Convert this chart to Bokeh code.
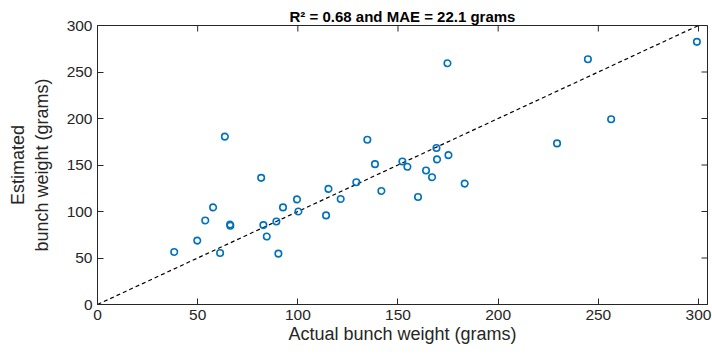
import math
from bokeh.plotting import figure
from bokeh.models import LinearAxis, Range1d, FixedTicker, ColumnDataSource
from bokeh.embed import file_html
from bokeh.resources import INLINE

actual = [38.3, 49.8, 53.8, 57.7, 61.2, 66.2, 66.3, 81.7, 82.8, 84.5, 89.3, 90.3,
          92.6, 99.6, 100.3, 114.1, 115.3, 121.4, 129.2, 141.7, 63.6, 134.7, 138.5,
          174.7, 244.8, 299.2, 256.4, 229.4, 152.2, 154.7, 169.2, 169.5, 175.2,
          164.0, 167.0, 183.3, 160.0]
estimated = [56.5, 68.7, 90.4, 104.4, 55.4, 86.0, 84.6, 136.2, 85.4, 73.1, 89.3, 54.7,
             104.4, 113.0, 100.0, 95.8, 124.3, 113.5, 131.4, 122.1, 180.5, 177.2, 150.9,
             259.4, 263.7, 282.4, 199.2, 173.2, 153.8, 148.1, 168.2, 156.0, 160.6,
             144.1, 136.9, 130.0, 115.6]
ideal = [0, 300]
ticks = [0, 50, 100, 150, 200, 250, 300]
x_max = 304.5
y_max = 300
title = "R\u00b2 = 0.68 and MAE = 22.1 grams"

FONT = "Liberation Sans"
AX = "#262626"

p = figure(width=712, height=358, output_backend="svg", toolbar_location=None,
           x_range=Range1d(0, x_max), y_range=Range1d(0, y_max),
           min_border_left=97, min_border_right=5, min_border_top=25, min_border_bottom=54,
           x_axis_location=None, y_axis_location=None)
p.grid.visible = False
p.outline_line_color = AX
p.outline_line_width = 1
p.background_fill_color = "white"
p.border_fill_color = "white"

p.title.text = title
p.title.align = "center"
p.title.text_font = FONT
p.title.text_font_size = "15px"
p.title.text_font_style = "bold"
p.title.text_color = "black"
p.title.standoff = 2
p.title.offset = -4

def style(ax):
    ax.ticker = FixedTicker(ticks=ticks)
    ax.major_tick_in = 6
    ax.major_tick_out = 0
    ax.minor_tick_line_color = None
    ax.axis_line_color = AX
    ax.major_tick_line_color = AX
    ax.major_label_text_font = FONT
    ax.major_label_text_font_size = "15.5px"
    ax.major_label_text_color = AX
    ax.major_label_standoff = 5
    ax.axis_label_text_font = FONT
    ax.axis_label_text_font_size = "18px"
    ax.axis_label_text_font_style = "normal"
    ax.axis_label_text_color = AX

xb = LinearAxis(axis_label="Actual bunch weight (grams)")
style(xb)
xb.axis_label_standoff = 1
yl = LinearAxis(axis_label="Estimated\nbunch weight (grams)")
style(yl)
yl.axis_label_standoff = 12
p.add_layout(xb, "below")
p.add_layout(yl, "left")

# inner ticks on the top and right edges of the box
p.scatter(ticks, [y_max] * len(ticks), marker="dash", angle=math.pi / 2, size=12,
          line_color=AX, line_width=1)
p.scatter([x_max] * len(ticks), ticks, marker="dash", size=12,
          line_color=AX, line_width=1)

p.line(ideal, ideal, line_color="black", line_dash="4 3", line_width=1.2)
src = ColumnDataSource(dict(x=actual, y=estimated))
p.scatter("x", "y", source=src, size=6.5, fill_color=None, line_color="#0072BD", line_width=1.6)

open("out.html", "w").write(file_html(p, INLINE))
